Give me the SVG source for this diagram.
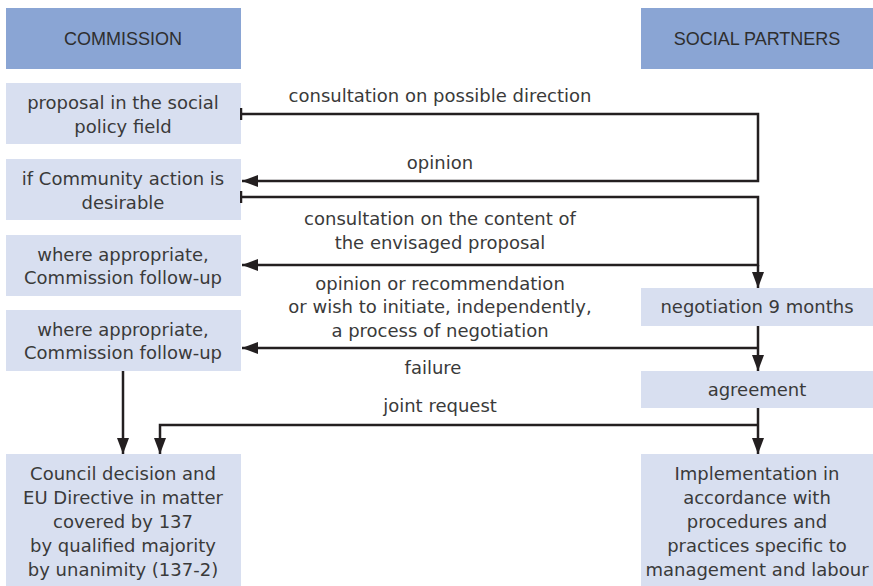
<svg xmlns="http://www.w3.org/2000/svg" width="873" height="586" viewBox="0 0 873 586">
<defs>
<style>
.hdr{fill:#8aa5d4}
.box{fill:#d8dff0}
text{font-family:"DejaVu Sans","Liberation Sans",sans-serif;font-size:18px;fill:#3a3a3a;text-anchor:middle}
.ht{font-family:"Liberation Sans",Arial,sans-serif;font-size:18px;fill:#2e2e2e}
.ln{fill:none;stroke:#231f20;stroke-width:2.5}
</style>
<marker id="arr" viewBox="0 0 16 12" refX="16" refY="6" markerWidth="16" markerHeight="12" markerUnits="userSpaceOnUse" orient="auto">
<path d="M0,0 L16,6 L0,12 Z" fill="#231f20"/>
</marker>
<marker id="tee" viewBox="0 0 4 12" refX="1" refY="6" markerWidth="4" markerHeight="12" markerUnits="userSpaceOnUse" orient="auto">
<path d="M1,0 L1,12" stroke="#231f20" stroke-width="2.5"/>
</marker>
</defs>
<rect width="873" height="586" fill="#ffffff"/>
<g id="commission">
<rect class="hdr" x="6" y="8" width="235" height="61"/>
<text class="ht" x="123" y="45">COMMISSION</text>
</g>
<g id="social-partners">
<rect class="hdr" x="641" y="8" width="232" height="61"/>
<text class="ht" x="757" y="45">SOCIAL PARTNERS</text>
</g>
<g id="proposal">
<rect class="box" x="6" y="83" width="235" height="61"/>
<text x="123" y="109">proposal in the social</text>
<text x="123" y="133">policy field</text>
</g>
<g id="community-action">
<rect class="box" x="6" y="159" width="235" height="61"/>
<text x="123" y="185">if Community action is</text>
<text x="123" y="209">desirable</text>
</g>
<g id="follow-up-1">
<rect class="box" x="6" y="235" width="235" height="61"/>
<text x="123" y="261">where appropriate,</text>
<text x="123" y="284">Commission follow-up</text>
</g>
<g id="follow-up-2">
<rect class="box" x="6" y="310" width="235" height="61"/>
<text x="123" y="336">where appropriate,</text>
<text x="123" y="359">Commission follow-up</text>
</g>
<g id="council">
<rect class="box" x="6" y="454" width="235" height="132"/>
<text x="123" y="480">Council decision and</text>
<text x="123" y="504">EU Directive in matter</text>
<text x="123" y="528">covered by 137</text>
<text x="123" y="552">by qualified majority</text>
<text x="123" y="576">by unanimity (137-2)</text>
</g>
<g id="negotiation">
<rect class="box" x="641" y="288" width="232" height="38"/>
<text x="757" y="313">negotiation 9 months</text>
</g>
<g id="agreement">
<rect class="box" x="641" y="371" width="232" height="37"/>
<text x="757" y="396">agreement</text>
</g>
<g id="implementation">
<rect class="box" x="641" y="454" width="232" height="132"/>
<text x="757" y="480">Implementation in</text>
<text x="757" y="504">accordance with</text>
<text x="757" y="528">procedures and</text>
<text x="757" y="552">practices specific to</text>
<text x="757" y="576">management and labour</text>
</g>
<g id="connectors">
<path class="ln" d="M241,114 H758 V181 H242" marker-start="url(#tee)" marker-end="url(#arr)"/>
<path class="ln" d="M241,197 H758 V265 H242" marker-start="url(#tee)" marker-end="url(#arr)"/>
<path class="ln" d="M758,265 V288" marker-end="url(#arr)"/>
<path class="ln" d="M758,326 V371" marker-end="url(#arr)"/>
<path class="ln" d="M758,348 H242" marker-end="url(#arr)"/>
<path class="ln" d="M758,408 V454" marker-end="url(#arr)"/>
<path class="ln" d="M758,425 H160 V454" marker-end="url(#arr)"/>
<path class="ln" d="M123,371 V454" marker-end="url(#arr)"/>
<text x="440" y="102">consultation on possible direction</text>
<text x="440" y="169">opinion</text>
<text x="440" y="225">consultation on the content of</text>
<text x="440" y="249">the envisaged proposal</text>
<text x="440" y="290">opinion or recommendation</text>
<text x="440" y="313">or wish to initiate, independently,</text>
<text x="440" y="337">a process of negotiation</text>
<text x="433" y="374">failure</text>
<text x="440" y="412">joint request</text>
</g>
</svg>
